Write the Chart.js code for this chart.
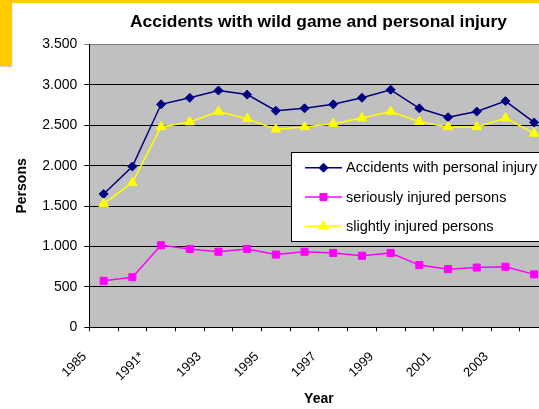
<!DOCTYPE html>
<html>
<head>
<meta charset="utf-8">
<script src="https://cdn.jsdelivr.net/npm/chart.js@4.4.1/dist/chart.umd.min.js"></script>
<style>
  html, body { margin: 0; padding: 0; background: #fff; overflow: hidden; width: 539px; height: 409px; }
  #wrap { position: relative; width: 637px; height: 409px; }
  .band { position: absolute; background: #FFCC00; }
  #topBand { left: 0; top: 0; width: 637px; height: 3px; }
  #sideBand { left: 0; top: 0; width: 12px; height: 66px; box-shadow: 0 1px 1px #cfcfcf; }
  canvas { position: absolute; left: 0; top: 0; }
</style>
</head>
<body>
<div id="wrap">
  <div class="band" id="topBand"></div>
  <div class="band" id="sideBand"></div>
  <canvas id="chart" width="637" height="409"></canvas>
</div>
<script>
// Wildlife accident statistics
const chartTitle = 'Accidents with wild game and personal injury';
const years = ['1985', '1990', '1991*', '1992', '1993', '1994', '1995', '1996',
               '1997', '1998', '1999', '2000', '2001', '2002', '2003', '2004'];
const accidents        = [1650, 1990, 2760, 2840, 2930, 2880, 2680, 2710, 2760, 2840, 2940, 2710, 2600, 2670, 2800, 2535];
const seriouslyInjured = [ 575,  620, 1015,  970,  935,  970,  900,  935,  920,  885,  920,  770,  720,  740,  750,  655];
const slightlyInjured  = [1530, 1790, 2480, 2540, 2670, 2580, 2450, 2480, 2520, 2590, 2670, 2545, 2480, 2480, 2590, 2400];
const yMin = 0, yMax = 3500, yStep = 500;

const FONT = '"Liberation Sans", Arial, sans-serif';

// German-style thousands separator: 3500 -> "3.500"
function formatThousands(v) {
  const s = String(Math.round(v));
  return s.replace(/\B(?=(\d{3})+(?!\d))/g, '.');
}

// grey plot background
const plotBackground = {
  id: 'plotBackground',
  beforeDraw(chart) {
    const { ctx, chartArea: a } = chart;
    ctx.save();
    ctx.fillStyle = '#C0C0C0';
    ctx.fillRect(a.left, a.top, a.right - a.left, a.bottom - a.top);
    ctx.restore();
  }
};

// chart heading, centred on the whole chart object
const heading = {
  id: 'heading',
  afterDraw(chart) {
    const ctx = chart.ctx;
    ctx.save();
    ctx.font = 'bold 17.4px ' + FONT;
    ctx.fillStyle = '#000';
    ctx.textAlign = 'center';
    ctx.textBaseline = 'alphabetic';
    ctx.fillText(chartTitle, chart.width / 2, 26.7);
    ctx.restore();
  }
};

function drawMarker(ctx, style, x, y, r) {
  ctx.beginPath();
  if (style === 'rectRot') {
    ctx.moveTo(x - r, y); ctx.lineTo(x, y - r); ctx.lineTo(x + r, y); ctx.lineTo(x, y + r);
  } else if (style === 'rect') {
    const s = r * Math.SQRT1_2;
    ctx.rect(x - s, y - s, 2 * s, 2 * s);
  } else if (style === 'triangle') {
    ctx.moveTo(x, y - r);
    ctx.lineTo(x + r * Math.sin(2 * Math.PI / 3), y - r * Math.cos(2 * Math.PI / 3));
    ctx.lineTo(x + r * Math.sin(4 * Math.PI / 3), y - r * Math.cos(4 * Math.PI / 3));
  }
  ctx.closePath();
  ctx.fill();
  ctx.stroke();
}

// boxed legend sitting over the right part of the plot
const boxedLegend = {
  id: 'boxedLegend',
  afterDraw(chart) {
    const ctx = chart.ctx;
    const box = { x: 291.5, y: 152.5, w: 300, h: 89 };
    ctx.save();
    ctx.fillStyle = '#fff';
    ctx.fillRect(box.x, box.y, box.w, box.h);
    ctx.strokeStyle = '#000';
    ctx.lineWidth = 1;
    ctx.strokeRect(box.x, box.y, box.w, box.h);
    ctx.font = '14.5px ' + FONT;
    ctx.textBaseline = 'middle';
    ctx.textAlign = 'left';
    chart.data.datasets.forEach((ds, i) => {
      const y = 167.7 + i * 29.3;
      ctx.strokeStyle = ds.borderColor;
      ctx.lineWidth = ds.borderWidth;
      ctx.beginPath();
      ctx.moveTo(305, y);
      ctx.lineTo(342, y);
      ctx.stroke();
      ctx.fillStyle = ds.pointBackgroundColor;
      ctx.strokeStyle = ds.pointBorderColor;
      ctx.lineWidth = 1;
      drawMarker(ctx, ds.pointStyle, 323.5, y, ds.pointRadius);
      ctx.fillStyle = '#000';
      ctx.fillText(ds.label, 346, y + 0.5);
    });
    ctx.restore();
  }
};

function series(label, data, color, style, radius, order) {
  return {
    label, data, order,
    borderColor: color,
    backgroundColor: color,
    borderWidth: 1.5,
    pointStyle: style,
    pointRadius: radius,
    pointHoverRadius: radius,
    pointBackgroundColor: color,
    pointBorderColor: color,
    pointBorderWidth: 1,
    tension: 0,
    fill: false
  };
}

new Chart(document.getElementById('chart'), {
  type: 'line',
  data: {
    labels: years,
    datasets: [
      series('Accidents with personal injury', accidents, '#000080', 'rectRot', 4.5, 3),
      series('seriously injured persons', seriouslyInjured, '#FF00FF', 'rect', 5, 2),
      series('slightly injured persons', slightlyInjured, '#FFFF00', 'triangle', 5.5, 1)
    ]
  },
  options: {
    responsive: false,
    animation: false,
    devicePixelRatio: 1,
    layout: { padding: { top: 44.5, left: 0, right: 88.5, bottom: 0 } },
    plugins: {
      legend: { display: false },
      title: { display: false },
      tooltip: { enabled: false }
    },
    scales: {
      x: {
        type: 'category',
        offset: true,
        grid: { offset: true, drawOnChartArea: false, drawTicks: true, tickLength: 4, color: '#000' },
        border: { display: true, color: '#000', width: 1 },
        ticks: {
          autoSkip: false,
          minRotation: 45,
          maxRotation: 45,
          padding: 17.7,
          labelOffset: -19,
          color: '#000',
          font: { family: FONT, size: 13 },
          callback(value, index) { return index % 2 === 0 ? this.getLabelForValue(value) : ''; }
        },
        title: {
          display: true,
          text: 'Year',
          color: '#000',
          font: { family: FONT, size: 14, weight: 'bold' },
          padding: { top: 0, bottom: 1 }
        },
        afterFit(scale) {
          scale.height = 81.7;
          scale.paddingLeft = 0;
          scale.paddingRight = 0;
        }
      },
      y: {
        min: yMin,
        max: yMax,
        grid: {
          drawTicks: true,
          tickLength: 5,
          lineWidth: 1,
          color: ctx => (ctx.tick && ctx.tick.value === yMax ? '#808080' : '#000')
        },
        border: { display: true, color: '#000', width: 1 },
        ticks: {
          stepSize: yStep,
          padding: 7,
          color: '#000',
          font: { family: FONT, size: 14 },
          callback: v => formatThousands(v)
        },
        title: {
          display: true,
          text: 'Persons',
          color: '#000',
          font: { family: FONT, size: 14, weight: 'bold' },
          padding: { top: 14, bottom: 0 }
        },
        afterFit(scale) {
          scale.width = 89.3;
          scale.paddingTop = 0;
          scale.paddingBottom = 0;
        }
      }
    }
  },
  plugins: [plotBackground, heading, boxedLegend]
});
</script>
</body>
</html>
